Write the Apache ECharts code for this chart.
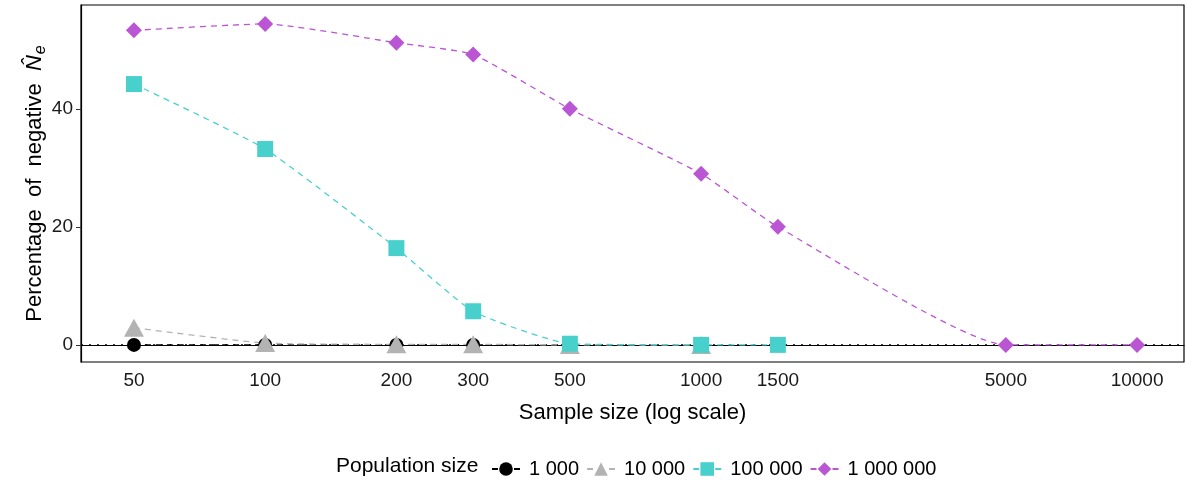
<!DOCTYPE html>
<html>
<head>
<meta charset="utf-8">
<script src="https://cdn.jsdelivr.net/npm/echarts@6/dist/echarts.min.js"></script>
<style>
  html, body { margin: 0; padding: 0; background: #fff; }
  #chart { width: 1187px; height: 486px; }
</style>
</head>
<body>
<div id="chart"></div>
<script>
// Sample sizes (x, log scale) and tick values
const sampleTicks = [50, 100, 200, 300, 500, 1000, 1500, 5000, 10000];
const yTicks = [0, 20, 40];

// Percentage of negative Ne estimates per population size
const samples1k   = [50, 100, 200, 300, 500];
const pop1k       = [0, 0, 0, 0, 0];
const samples10k  = [50, 100, 200, 300, 500, 1000];
const pop10k      = [2.9, 0.3, 0.1, 0.1, 0, 0];
const samples100k = [50, 100, 200, 300, 500, 1000, 1500];
const pop100k     = [44.2, 33.2, 16.4, 5.7, 0.2, 0, 0];
const samples1M   = [50, 100, 200, 300, 500, 1000, 1500, 5000, 10000];
const pop1M       = [53.3, 54.4, 51.2, 49.2, 40.0, 29.0, 20.0, 0, 0];

const seriesNames = ['1 000', '10 000', '100 000', '1 000 000'];
const seriesColors = ['#000000', '#B3B3B3', '#48D1CC', '#BA55D3'];

const pairs = (xs, ys) => xs.map((x, i) => [x, ys[i]]);
const FONT = '"Liberation Sans", Arial, Helvetica, sans-serif';

function lineSeries(name, data, color, symbol, size) {
  return {
    name: name,
    type: 'line',
    data: data,
    smooth: 0.16,
    symbol: symbol,
    symbolSize: size,
    showSymbol: true,
    itemStyle: { color: color, opacity: 1 },
    lineStyle: { color: color, width: 1.3, type: [6, 5] },
    emphasis: { disabled: true },
    animation: false
  };
}

const series = [
  lineSeries(seriesNames[0], pairs(samples1k, pop1k), seriesColors[0], 'circle', 14),
  lineSeries(seriesNames[1], pairs(samples10k, pop10k), seriesColors[1], 'triangle', [20, 18]),
  lineSeries(seriesNames[2], pairs(samples100k, pop100k), seriesColors[2], 'rect', 16),
  lineSeries(seriesNames[3], pairs(samples1M, pop1M), seriesColors[3], 'diamond', 16)
];

// Dotted reference line at zero across the whole panel
series[3].markLine = {
  silent: true,
  symbol: ['none', 'none'],
  label: { show: false },
  z: 1,
  lineStyle: { color: '#000', type: [2, 6], width: 1.6, cap: 'butt', opacity: 1 },
  data: [{ yAxis: 0 }],
  animation: false
};

const chart = echarts.init(document.getElementById('chart'), null, { renderer: 'canvas' });
chart.setOption({
  backgroundColor: '#ffffff',
  animation: false,
  textStyle: { fontFamily: FONT },
  grid: {
    left: 81, right: 3, top: 5, bottom: 124,
    show: true, borderColor: '#000', borderWidth: 1.2, backgroundColor: 'transparent'
  },
  xAxis: {
    type: 'log',
    logBase: 10,
    min: 37.8,
    max: 12815,
    name: 'Sample size (log scale)',
    nameLocation: 'middle',
    nameGap: 40,
    nameTextStyle: { fontSize: 22, color: '#000', fontFamily: FONT },
    axisLine: { show: true, lineStyle: { color: '#000', width: 1.2 } },
    axisTick: { show: true, length: 5, customValues: sampleTicks, lineStyle: { color: '#333' } },
    axisLabel: {
      customValues: sampleTicks,
      formatter: v => String(Math.round(v)),
      fontSize: 19, color: '#1a1a1a', margin: 9, fontFamily: FONT,
      showMinLabel: true, showMaxLabel: true
    },
    splitLine: { show: false },
    minorTick: { show: false }
  },
  yAxis: {
    type: 'value',
    min: -2.9,
    max: 57.6,
    name: '{t|Percentage  of  negative  }{n|N\u0302}{e|e}',
    nameLocation: 'middle',
    nameGap: 32,
    nameMoveOverlap: false,
    nameRotate: 90,
    nameTextStyle: {
      fontSize: 22, color: '#000', fontFamily: FONT,
      rich: {
        t: { fontSize: 22, color: '#000', fontFamily: FONT },
        n: { fontSize: 22, color: '#000', fontStyle: 'italic', fontFamily: FONT },
        e: { fontSize: 16, color: '#000', fontStyle: 'italic', fontFamily: FONT, padding: [12, 0, 0, 1] }
      }
    },
    axisLine: { show: true, lineStyle: { color: '#000', width: 1.2 } },
    axisTick: { show: true, length: 5, customValues: yTicks, lineStyle: { color: '#333' } },
    axisLabel: {
      customValues: yTicks,
      fontSize: 19, color: '#1a1a1a', margin: 8, fontFamily: FONT
    },
    splitLine: { show: false }
  },
  legend: {
    left: 486,
    top: 454,
    orient: 'horizontal',
    itemWidth: 28,
    itemHeight: 17,
    itemGap: 7,
    selectedMode: false,
    data: seriesNames,
    textStyle: { fontSize: 20, color: '#000', fontFamily: FONT, padding: [0, 0, 0, 4] }
  },
  graphic: [{
    type: 'text',
    left: 336,
    top: 456,
    style: { text: 'Population size', fontSize: 21, fill: '#000', fontFamily: FONT }
  }],
  series: series
});
</script>
</body>
</html>
